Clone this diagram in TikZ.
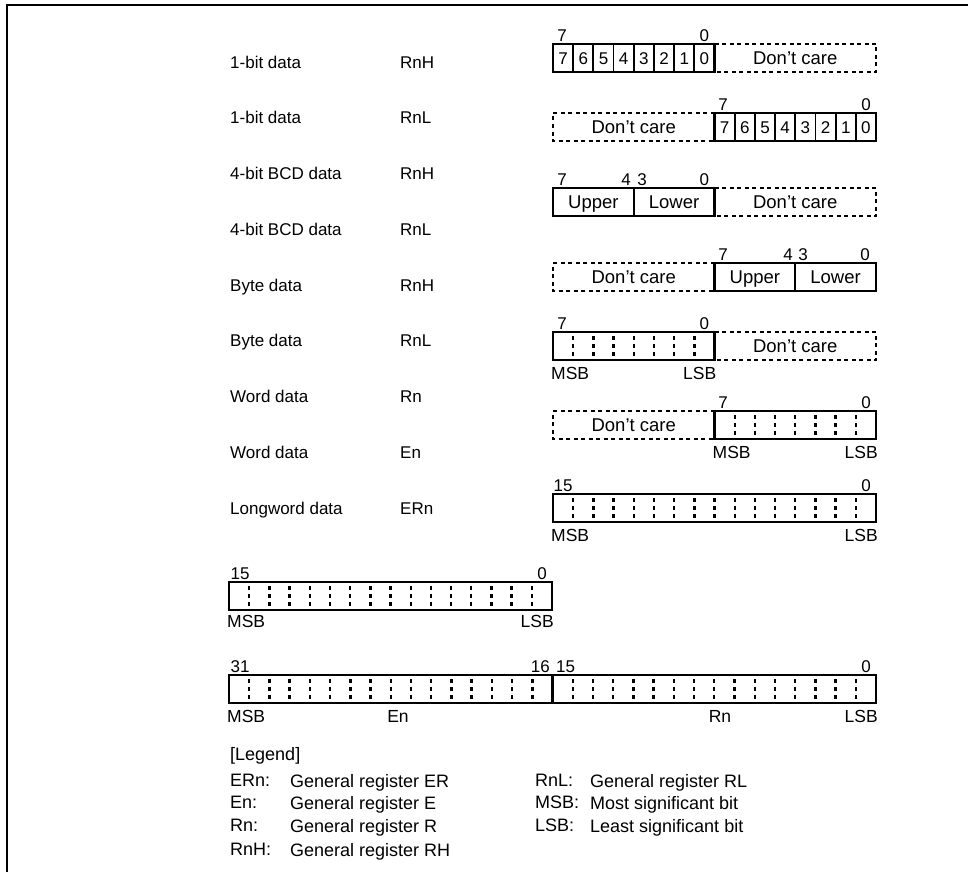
\documentclass[tikz,border=0pt]{standalone}
\usepackage{fontspec}
\setmainfont{Liberation Sans}

\begin{document}
\begin{tikzpicture}[x=1pt, y=-1pt,
  txt/.style={font=\fontsize{17}{20}\selectfont, inner sep=0pt, text height=12.2pt, text depth=0pt},
  boxtxt/.style={font=\fontsize{18.5}{21}\selectfont, inner sep=0pt, text height=13.2pt, text depth=0pt},
  bittxt/.style={font=\fontsize{17}{20}\selectfont, inner sep=0pt, text height=12.2pt, text depth=0pt},
  endtxt/.style={font=\fontsize{17.5}{20}\selectfont, inner sep=0pt, text height=12.5pt, text depth=0pt},
  legtxt/.style={font=\fontsize{18}{21}\selectfont, inner sep=0pt, text height=12.9pt, text depth=0pt, anchor=west},
  regbox/.style={line width=2.4pt},
  cellline/.style={line width=1.8pt},
  carebox/.style={line width=2.4pt, dash pattern=on 4pt off 3.5pt},
  bitgap/.style={line width=2.4pt, dash pattern=on 4pt off 4pt}]
  \useasboundingbox (0,0) rectangle (968,872);

  % Frame (top and left edge)
  \draw[line width=2.7pt] (7,872) -- (7,5) -- (968,5);

  % Data type labels (evenly spaced)
  \foreach \t/\r [count=\k from 0] in {1-bit data/RnH, 1-bit data/RnL, 4-bit BCD data/RnH,
      4-bit BCD data/RnL, Byte data/RnH, Byte data/RnL, Word data/Rn, Word data/En,
      Longword data/ERn} {
    \node[txt, anchor=west] (t\k) at (230,62+\k*55.75) {\t};
    \node[txt, anchor=west] (g\k) at (400,62+\k*55.75) {\r};
  }

  % 1-bit data, RnH
  \draw[carebox] (714.5,44) -- (876,44) -- (876,72) -- (714.5,72);
  \node[boxtxt] (dc1) at (795.25,58) {Don't care};
  \draw[regbox] (553,44) rectangle (714.5,72);
  \foreach \i in {1,...,7} \draw[cellline] (553+\i*20.19,44) -- ++(0,28);
  \foreach \b [count=\i from 0] in {7,6,5,4,3,2,1,0}
    \node[bittxt] (a\b) at (563.1+\i*20.19,58) {\b};
  \node[bittxt] (a7h) at (562,35) {7};
  \node[bittxt] (a0h) at (704.4,35) {0};

  % 1-bit data, RnL
  \draw[carebox] (714.5,113) -- (553,113) -- (553,141) -- (714.5,141);
  \node[boxtxt] (dc2) at (633.75,127) {Don't care};
  \draw[regbox] (714.5,113) rectangle (876,141);
  \foreach \i in {1,...,7} \draw[cellline] (714.5+\i*20.19,113) -- ++(0,28);
  \foreach \b [count=\i from 0] in {7,6,5,4,3,2,1,0}
    \node[bittxt] (b\b) at (724.6+\i*20.19,127) {\b};
  \node[bittxt] (b7h) at (723,104) {7};
  \node[bittxt] (b0h) at (866,104) {0};

  % 4-bit BCD data, RnH
  \draw[carebox] (714.5,188) -- (876,188) -- (876,216) -- (714.5,216);
  \node[boxtxt] (dc3) at (795.25,202) {Don't care};
  \draw[regbox] (553,188) rectangle (714.5,216);
  \draw[regbox] (633.75,188) -- (633.75,216);
  \node[boxtxt] (up3) at (593.4,202) {Upper};
  \node[boxtxt] (lo3) at (674.1,202) {Lower};
  \node[bittxt] (c7) at (562,179) {7};
  \node[bittxt] (c4) at (626,179) {4};
  \node[bittxt] (c3) at (642,179) {3};
  \node[bittxt] (c0) at (704.4,179) {0};

  % 4-bit BCD data, RnL
  \draw[carebox] (714.5,263) -- (553,263) -- (553,291) -- (714.5,291);
  \node[boxtxt] (dc4) at (633.75,277) {Don't care};
  \draw[regbox] (714.5,263) rectangle (876,291);
  \draw[regbox] (795.25,263) -- (795.25,291);
  \node[boxtxt] (up4) at (754.9,277) {Upper};
  \node[boxtxt] (lo4) at (835.6,277) {Lower};
  \node[bittxt] (d7) at (723,254) {7};
  \node[bittxt] (d4) at (788,254) {4};
  \node[bittxt] (d3) at (803,254) {3};
  \node[bittxt] (d0) at (865,254) {0};

  % Byte data, RnH
  \draw[carebox] (714.5,332) -- (876,332) -- (876,360) -- (714.5,360);
  \node[boxtxt] (dc5) at (795.25,346) {Don't care};
  \draw[regbox] (553,332) rectangle (714.5,360);
  \foreach \i in {1,...,7} \draw[bitgap] (553+\i*20.19,336) -- ++(0,20);
  \node[bittxt] (e7) at (562,323) {7};
  \node[bittxt] (e0) at (704.4,323) {0};
  \node[endtxt, anchor=west] (emsb) at (551,373) {MSB};
  \node[endtxt, anchor=east] (elsb) at (716.5,373) {LSB};

  % Byte data, RnL
  \draw[carebox] (714.5,411) -- (553,411) -- (553,439) -- (714.5,439);
  \node[boxtxt] (dc6) at (633.75,425) {Don't care};
  \draw[regbox] (714.5,411) rectangle (876,439);
  \foreach \i in {1,...,7} \draw[bitgap] (714.5+\i*20.19,415) -- ++(0,20);
  \node[bittxt] (f7) at (723,402) {7};
  \node[bittxt] (f0) at (866,402) {0};
  \node[endtxt, anchor=west] (fmsb) at (712.5,452) {MSB};
  \node[endtxt, anchor=east] (flsb) at (878,452) {LSB};

  % Word data, Rn
  \draw[regbox] (553,494) rectangle (876,522);
  \foreach \i in {1,...,15} \draw[bitgap] (553+\i*20.19,498) -- ++(0,20);
  \node[bittxt] (h15) at (563,485) {15};
  \node[bittxt] (h0) at (866,485) {0};
  \node[endtxt, anchor=west] (hmsb) at (551,535) {MSB};
  \node[endtxt, anchor=east] (hlsb) at (878,535) {LSB};

  % Word data, En
  \draw[regbox] (229,582) rectangle (552,610);
  \foreach \i in {1,...,15} \draw[bitgap] (229+\i*20.19,586) -- ++(0,20);
  \node[bittxt] (k15) at (240,573) {15};
  \node[bittxt] (k0) at (542,573) {0};
  \node[endtxt, anchor=west] (kmsb) at (227,621) {MSB};
  \node[endtxt, anchor=east] (klsb) at (554,621) {LSB};

  % Longword data, ERn
  \draw[regbox] (229,675) rectangle (876,703);
  \draw[regbox] (552.5,675) -- (552.5,703);
  \foreach \i in {1,...,15,17,18,...,31} \draw[bitgap] (229+\i*20.22,679) -- ++(0,20);
  \node[bittxt] (m31) at (240,666) {31};
  \node[bittxt, anchor=east] (m16) at (550,666) {16};
  \node[bittxt, anchor=west] (m15) at (556,666) {15};
  \node[bittxt] (m0) at (866,666) {0};
  \node[endtxt, anchor=west] (mmsb) at (227,716) {MSB};
  \node[endtxt] (men) at (398,716) {En};
  \node[endtxt] (mrn) at (720,716) {Rn};
  \node[endtxt, anchor=east] (mlsb) at (878,716) {LSB};

  % Legend
  \node[legtxt] (leg) at (230,754) {[Legend]};
  \node[legtxt] (l1) at (230,780) {ERn:};
  \node[legtxt] (l2) at (230,802) {En:};
  \node[legtxt] (l3) at (230,825) {Rn:};
  \node[legtxt] (l4) at (230,849) {RnH:};
  \node[legtxt] (d1) at (290,781) {General register ER};
  \node[legtxt] (d2) at (290,803) {General register E};
  \node[legtxt] (d3) at (290,826) {General register R};
  \node[legtxt] (d4) at (290,850) {General register RH};
  \node[legtxt] (l5) at (535,780) {RnL:};
  \node[legtxt] (l6) at (535,802) {MSB:};
  \node[legtxt] (l7) at (535,825) {LSB:};
  \node[legtxt] (d5) at (590,781) {General register RL};
  \node[legtxt] (d6) at (590,803) {Most significant bit};
  \node[legtxt] (d7) at (590,826) {Least significant bit};
\end{tikzpicture}
\end{document}
